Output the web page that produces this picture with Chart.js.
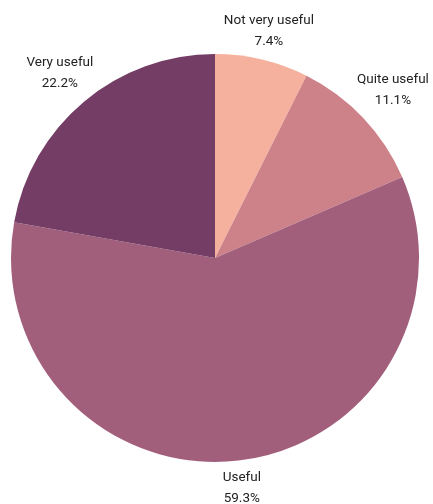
<!DOCTYPE html>
<html>
<head>
<meta charset="utf-8">
<script src="https://cdn.jsdelivr.net/npm/chart.js@4"></script>
<style>
  html, body { margin: 0; padding: 0; background: #fff; }
  #wrap { width: 433px; height: 504px; }
</style>
</head>
<body>
<div id="wrap"><canvas id="usefulChart" width="433" height="504"></canvas></div>
<script>
const labels = ["Not very useful", "Quite useful", "Useful", "Very useful"];
const percents = [7.4, 11.1, 59.3, 22.2];
const colors = ["#f6b19e", "#cd8289", "#a25f7c", "#733d65"];

// draws "name / xx.x%" outside every slice
const outsideLabels = {
    id: "outsideLabels",
    afterDatasetsDraw(chart) {
        const ctx = chart.ctx;
        const meta = chart.getDatasetMeta(0);
        ctx.save();
        ctx.font = "13.5px Roboto";
        ctx.fillStyle = "#222";
        ctx.textAlign = "center";
        ctx.textBaseline = "middle";
        meta.data.forEach((arc, i) => {
            const mid = (arc.startAngle + arc.endAngle) / 2;
            const dx = Math.cos(mid), dy = Math.sin(mid);
            const w = Math.max(ctx.measureText(labels[i]).width, ctx.measureText(percents[i] + "%").width);
            const h = 34;
            const off = (dy > 0 ? 8 : 3) + Math.abs(dx) * w / 2 + Math.abs(dy) * h / 2;
            const r = arc.outerRadius + off;
            const x = arc.x + dx * r;
            const y = arc.y + dy * r;
            ctx.fillText(labels[i], x, y - 10);
            ctx.fillText(percents[i].toFixed(1) + "%", x, y + 11);
        });
        ctx.restore();
    }
};

new Chart("usefulChart", {
    type: "pie",
    data: {
        labels: labels,
        datasets: [{
            data: percents,
            backgroundColor: colors,
            borderWidth: 0
        }]
    },
    options: {
        responsive: false,
        animation: false,
        layout: {
            padding: { left: 11, right: 14, top: 54, bottom: 42 }
        },
        plugins: {
            legend: { display: false },
            tooltip: { enabled: false }
        }
    },
    plugins: [outsideLabels]
});
</script>
</body>
</html>
